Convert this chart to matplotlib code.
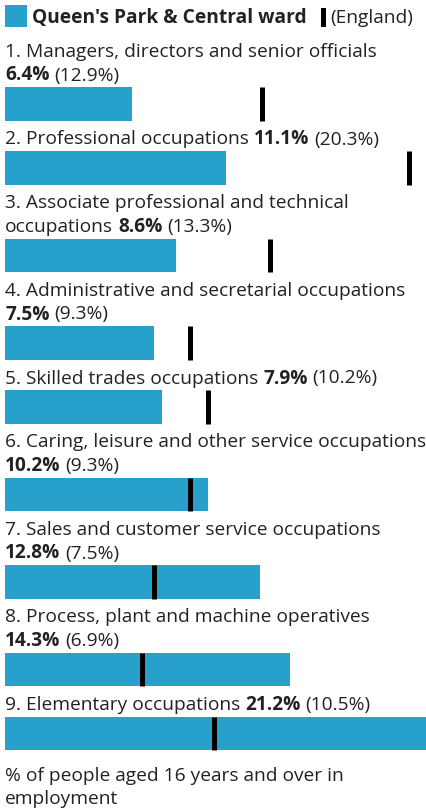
import matplotlib
matplotlib.use('Agg')
import matplotlib.pyplot as plt
from matplotlib.patches import Rectangle

W, H, DPI = 427, 809, 100
FONT = ['Open Sans', 'DejaVu Sans']
FS = 13.75
BLUE = '#27a0cc'
TXT = '#222222'

area_name = "Queen's Park & Central ward"
compare_name = "(England)"
categories = [
    "1. Managers, directors and senior officials",
    "2. Professional occupations",
    "3. Associate professional and technical occupations",
    "4. Administrative and secretarial occupations",
    "5. Skilled trades occupations",
    "6. Caring, leisure and other service occupations",
    "7. Sales and customer service occupations",
    "8. Process, plant and machine operatives",
    "9. Elementary occupations",
]
area_values = [6.4, 11.1, 8.6, 7.5, 7.9, 10.2, 12.8, 14.3, 21.2]
england_values = [12.9, 20.3, 13.3, 9.3, 10.2, 9.3, 7.5, 6.9, 10.5]
footer = "% of people aged 16 years and over in employment"

fig = plt.figure(figsize=(W / DPI, H / DPI), dpi=DPI)
fig.patch.set_facecolor('white')
renderer = fig.canvas.get_renderer()


def measure(s, bold=False):
    t = fig.text(0, 0, s, fontsize=FS, family=FONT, fontweight='bold' if bold else 'normal')
    w = t.get_window_extent(renderer).width
    t.remove()
    return w


def put(x, yb, s, bold=False):
    fig.text(x / W, 1 - yb / H, s, fontsize=FS, family=FONT, color=TXT,
             fontweight='bold' if bold else 'normal', ha='left', va='baseline')


SPACE = measure("a b") - measure("ab")
LEFT = 5
LIMIT = W + 3
LINE = 23.5


# a token is a list of (text, bold) parts that never get split across lines
def token_width(parts):
    return sum(measure(s, b) for s, b in parts) + SPACE * (len(parts) - 1)


def wrap(tokens):
    lines, cur, x = [], [], LEFT
    for parts in tokens:
        w = token_width(parts)
        if cur and x + w > LIMIT:
            lines.append(cur)
            cur, x = [], LEFT
        cur.extend(parts)
        x += w + SPACE
    lines.append(cur)
    return lines


def draw_lines(lines, y):
    for i, line in enumerate(lines):
        runs = []
        for s, b in line:
            if runs and runs[-1][1] == b:
                runs[-1][0] += " " + s
            else:
                runs.append([s, b])
        x = LEFT
        for s, b in runs:
            put(x, y + i * LINE, s, b)
            x += measure(s, b) + SPACE
    return y + (len(lines) - 1) * LINE


# legend
fig.patches.append(Rectangle((5 / W, 1 - 27 / H), 22 / W, 22 / H, transform=fig.transFigure,
                             facecolor=BLUE, edgecolor='none'))
put(32, 22.7, area_name, True)
mx = 32 + measure(area_name, True) + 14
fig.patches.append(Rectangle((mx / W, 1 - 27 / H), 5 / W, 19 / H, transform=fig.transFigure,
                             facecolor='black', edgecolor='none'))
put(mx + 9.5, 22.7, compare_name)

# bars axis: x in %, y in pixel rows
ax = fig.add_axes([LEFT / W, 0, (W - LEFT) / W, 1])
ax.set_xlim(0, max(area_values))
ax.set_ylim(H, 0)
ax.axis('off')

BH = 33.3
y = 57
for cat, v, e in zip(categories, area_values, england_values):
    tokens = [[(wd, False)] for wd in cat.split()] + [[(f"{v}%", True), (f"({e}%)", False)]]
    last = draw_lines(wrap(tokens), y)
    top = last + 6.7
    ax.barh(top + BH / 2, v, height=BH, color=BLUE, left=0)
    ax.plot([e, e], [top, top + BH], color='black', lw=5 * 72 / DPI, solid_capstyle='butt')
    y = top + BH + 24

y = y - 24 + 31
draw_lines(wrap([[(wd, False)] for wd in footer.split()]), y)

fig.savefig('out.png', dpi=DPI)
